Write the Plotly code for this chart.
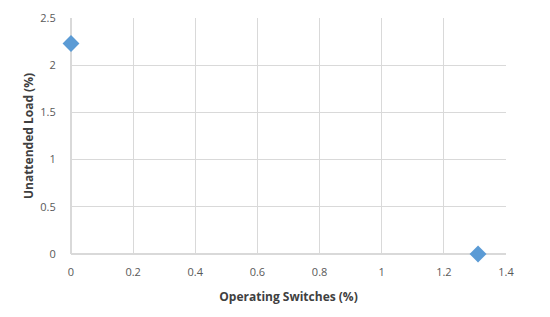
import plotly.graph_objects as go

switches = [0, 1.31]
unattended = [2.23, 0]

fig = go.Figure()
fig.add_trace(go.Scatter(x=switches, y=unattended, mode='markers',
                         marker=dict(symbol='diamond', size=13, color='#5B9BD5'),
                         cliponaxis=False, showlegend=False))

# page has an 8px body margin, so the figure is 8px smaller than the window
fig.update_layout(width=542, height=309, plot_bgcolor='white', paper_bgcolor='white',
                  margin=dict(l=63, r=44, t=10, b=63),
                  font=dict(family='Open Sans', size=11, color='#595959'))
fig.update_xaxes(range=[0, 1.4], dtick=0.2, tickformat='~g', showgrid=True, gridcolor='#d9d9d9',
                 zeroline=True, zerolinecolor='#d9d9d9', showline=False, ticks='outside', ticklen=8,
                 tickcolor='rgba(0,0,0,0)', automargin=False,
                 title=dict(text='<b>Operating Switches (%)</b>', font=dict(size=12, color='#404040'), standoff=14))
fig.update_yaxes(range=[0, 2.5], dtick=0.5, tickformat='~g', showgrid=True, gridcolor='#d9d9d9',
                 zeroline=True, zerolinecolor='#d9d9d9', showline=False, ticks='outside', ticklen=12,
                 tickcolor='rgba(0,0,0,0)', automargin=False,
                 title=dict(text='<b>Unattended Load (%)</b>', font=dict(size=12, color='#404040'), standoff=4))

fig.write_html("out.html")
